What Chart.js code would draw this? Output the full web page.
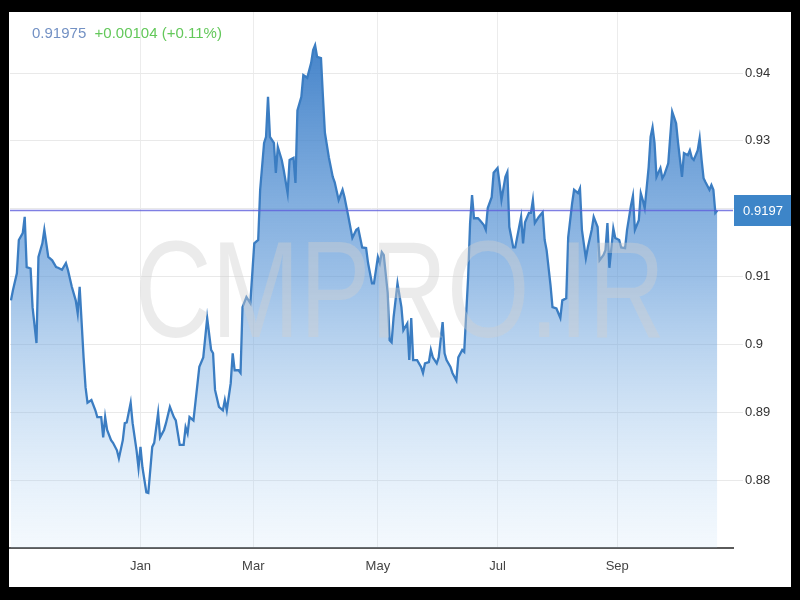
<!DOCTYPE html>
<html>
<head>
<meta charset="utf-8">
<script src="https://cdn.jsdelivr.net/npm/chart.js@4"></script>
<style>
  html, body { margin: 0; padding: 0; background: #000; }
  #box { position: absolute; left: 9px; top: 12px; width: 782px; height: 575px; background: #fff; }
  #quote { position: absolute; left: 23px; top: 12px; font: 15px "Liberation Sans", Arial, sans-serif; white-space: pre; }
  #last { color: #7391c4; }
  #chg { color: #63c85a; }
  #wrap { position: absolute; left: 0; top: 0; width: 782px; height: 575px; }
</style>
</head>
<body>
<div id="box">
  <div id="wrap"><canvas id="chart"></canvas></div>
  <div id="quote"><span id="last">0.91975</span>  <span id="chg">+0.00104 (+0.11%)</span></div>
</div>
<script>
// days counted from 1 Jan (negative = previous Nov/Dec)
const days = [-66,-65,-63,-62,-60,-59,-58,-56,-55,-53,-52,-50,-49,-47,-45,-43,-42,-40,-38,-37,-35,-33,-32,-31,-29,-28,-27,-25,-23,-22,-20,-19,-18,-17,-15,-14,-12,-11,-9,-8,-7,-5,-4,-2,-1,0,1,3,4,6,7,9,10,12,13,15,17,18,20,22,23,24,25,27,30,32,34,36,37,38,40,42,43,44,46,47,48,50,51,52,54,56,58,60,61,63,64,65,66,68,69,70,72,73,75,76,78,79,80,82,83,85,87,88,89,90,92,93,94,96,98,99,101,103,104,106,108,110,111,113,115,116,118,119,121,122,123,124,126,127,128,129,131,133,134,136,137,138,139,141,143,144,145,147,148,149,151,152,154,155,156,158,159,161,162,164,165,167,168,169,170,172,173,175,176,177,179,180,182,183,184,186,187,188,190,191,193,194,195,196,198,199,200,201,203,205,206,207,209,210,212,214,215,217,218,220,221,223,224,225,227,228,230,231,233,234,236,237,238,239,241,242,244,245,247,248,250,251,252,254,255,256,257,259,260,261,262,263,265,266,267,269,270,271,273,274,276,277,279,280,281,282,284,285,286,287,288,290,291,292,293,294];

const closes = [0.9065,0.9080,0.9105,0.9154,0.9164,0.9188,0.9114,0.9112,0.9055,0.9002,0.9129,0.9149,0.9169,0.9129,0.9124,0.9114,0.9113,0.9110,0.9120,0.9110,0.9085,0.9065,0.9046,0.9085,0.8981,0.8937,0.8914,0.8918,0.8903,0.8893,0.8893,0.8863,0.8893,0.8874,0.8859,0.8855,0.8844,0.8832,0.8859,0.8884,0.8885,0.8914,0.8884,0.8844,0.8818,0.8849,0.8819,0.8782,0.8781,0.8849,0.8855,0.8899,0.8863,0.8874,0.8884,0.8908,0.8893,0.8888,0.8852,0.8852,0.8878,0.8869,0.8893,0.8888,0.8967,0.8981,0.9039,0.8992,0.8987,0.8933,0.8908,0.8903,0.8918,0.8903,0.8943,0.8987,0.8962,0.8962,0.8958,0.9055,0.9070,0.9061,0.9149,0.9154,0.9228,0.9297,0.9306,0.9365,0.9306,0.9297,0.9253,0.9291,0.9272,0.9257,0.9223,0.9272,0.9275,0.9238,0.9345,0.9365,0.9397,0.9393,0.9415,0.9434,0.9441,0.9424,0.9422,0.9365,0.9312,0.9276,0.9247,0.9239,0.9213,0.9228,0.9217,0.9188,0.9157,0.9169,0.9171,0.9143,0.9142,0.9120,0.9090,0.9090,0.9129,0.9120,0.9136,0.9132,0.9076,0.9006,0.9003,0.9040,0.9090,0.9055,0.9021,0.9031,0.8977,0.9039,0.8977,0.8977,0.8967,0.8958,0.8972,0.8974,0.8992,0.8981,0.8972,0.8981,0.9033,0.8987,0.8977,0.8967,0.8958,0.8947,0.8981,0.8992,0.8989,0.9099,0.9179,0.9220,0.9186,0.9186,0.9183,0.9176,0.9169,0.9201,0.9217,0.9253,0.9260,0.9238,0.9213,0.9247,0.9254,0.9173,0.9143,0.9143,0.9173,0.9188,0.9149,0.9180,0.9194,0.9194,0.9213,0.9179,0.9188,0.9195,0.9154,0.9139,0.9087,0.9055,0.9053,0.9039,0.9065,0.9068,0.9158,0.9208,0.9228,0.9223,0.9230,0.9169,0.9127,0.9143,0.9169,0.9188,0.9173,0.9124,0.9132,0.9139,0.9179,0.9113,0.9171,0.9157,0.9154,0.9143,0.9142,0.9169,0.9205,0.9219,0.9169,0.9183,0.9223,0.9213,0.9201,0.9261,0.9306,0.9320,0.9297,0.9247,0.9260,0.9245,0.9250,0.9267,0.9306,0.9343,0.9326,0.9297,0.9247,0.9282,0.9279,0.9286,0.9275,0.9272,0.9286,0.9304,0.9272,0.9245,0.9239,0.9228,0.9235,0.9228,0.9194,0.91975];

const monthTicks = [0, 57.5, 121, 182, 243];
const monthLabels = ["Jan", "Mar", "May", "Jul", "Sep"];
const priceTicks = [0.88, 0.89, 0.90, 0.91, 0.92, 0.93, 0.94];
const lastPrice = 0.91975;
const lastLabel = "0.9197";

const lineBlue = "#3b7dc2";
const font = { family: "'Liberation Sans', Arial, sans-serif", size: 13 };

const extras = {
  id: "extras",
  afterDatasetsDraw(chart) {
    const { ctx } = chart;
    ctx.save();
    ctx.fillStyle = "rgba(208,208,208,0.42)";
    ctx.font = "138px 'Liberation Sans', Arial, sans-serif";
    ctx.textAlign = "center";
    ctx.textBaseline = "alphabetic";
    ctx.fillText("CMPRO.IR", 391, 325, 530);
    ctx.restore();
  },
  afterDraw(chart) {
    const { ctx, chartArea, scales } = chart;
    const y = Math.round(scales.y.getPixelForValue(lastPrice)) + 0.5;
    ctx.save();
    ctx.strokeStyle = "rgba(95,95,220,0.8)";
    ctx.lineWidth = 1.5;
    ctx.beginPath();
    ctx.moveTo(chartArea.left, y);
    ctx.lineTo(chartArea.right, y);
    ctx.stroke();
    ctx.fillStyle = "#3d85c8";
    ctx.fillRect(chartArea.right + 1, y - 15.5, chart.width - chartArea.right - 1, 31);
    ctx.fillStyle = "#fff";
    ctx.font = "13px 'Liberation Sans', Arial, sans-serif";
    ctx.textAlign = "center";
    ctx.textBaseline = "middle";
    ctx.fillText(lastLabel, (chartArea.right + chart.width) / 2 + 1, y + 1);
    ctx.restore();
  }
};

new Chart(document.getElementById("chart"), {
  type: "line",
  data: {
    datasets: [{
      data: days.map((d, i) => ({ x: d, y: closes[i] })),
      borderColor: lineBlue,
      borderWidth: 2.3,
      pointRadius: 0,
      tension: 0,
      fill: "start",
      backgroundColor: (c) => {
        const area = c.chart.chartArea;
        if (!area) return "rgba(59,125,194,0.5)";
        const g = c.chart.ctx.createLinearGradient(0, area.top, 0, area.bottom);
        g.addColorStop(0, "rgba(52,120,196,0.98)");
        g.addColorStop(0.5, "rgba(90,150,215,0.6)");
        g.addColorStop(1, "rgba(180,215,245,0.15)");
        return g;
      }
    }]
  },
  options: {
    responsive: true,
    maintainAspectRatio: false,
    animation: false,
    layout: { padding: { left: 1, top: 0, right: 0, bottom: 0 } },
    plugins: { legend: { display: false }, tooltip: { enabled: false } },
    scales: {
      x: {
        type: "linear",
        min: -66.5,
        max: 302,
        afterBuildTicks: (s) => { s.ticks = monthTicks.map((v) => ({ value: v })); },
        afterFit: (s) => { s.height = 39; s.paddingLeft = 0; s.paddingRight = 0; },
        ticks: {
          color: "#444",
          font,
          padding: 11,
          maxRotation: 0,
          callback: (v) => monthLabels[monthTicks.indexOf(v)]
        },
        grid: { color: "#ececec", drawTicks: false },
        border: { color: "#5a5a5a", width: 2 }
      },
      y: {
        position: "right",
        min: 0.87,
        max: 0.949,
        afterBuildTicks: (s) => { s.ticks = priceTicks.map((v) => ({ value: v })); },
        afterFit: (s) => { s.width = 58; s.paddingTop = 0; s.paddingBottom = 0; },
        ticks: {
          color: "#333",
          font,
          padding: 2,
          callback: (v) => String(+v.toFixed(2))
        },
        grid: { color: "#e9e9e9", tickLength: 10 },
        border: { display: false }
      }
    }
  },
  plugins: [extras]
});
</script>
</body>
</html>
